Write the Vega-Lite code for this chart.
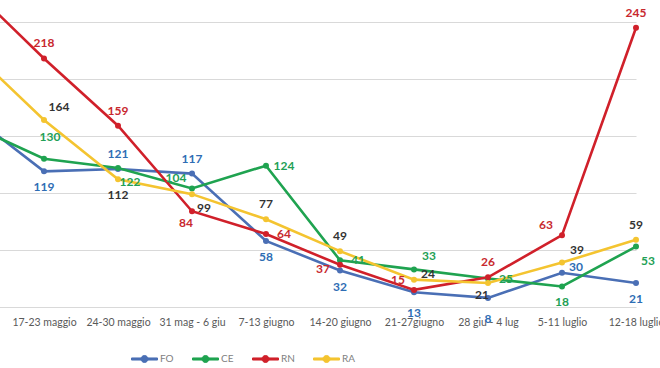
{
  "$schema": "https://vega.github.io/schema/vega-lite/v6.json",
  "width": 660,
  "height": 307,
  "autosize": "none",
  "padding": {"left": 0, "top": 0, "right": 0, "bottom": 61},
  "background": "white",
  "config": {
    "view": {"stroke": null},
    "font": "Lato"
  },
  "data": {
    "values": [
      {"week": "10-16 maggio", "series": "FO", "value": 169},
      {"week": "10-16 maggio", "series": "CE", "value": 160},
      {"week": "10-16 maggio", "series": "RN", "value": 281},
      {"week": "10-16 maggio", "series": "RA", "value": 226},
      {"week": "17-23 maggio", "series": "FO", "value": 119},
      {"week": "17-23 maggio", "series": "CE", "value": 130},
      {"week": "17-23 maggio", "series": "RN", "value": 218},
      {"week": "17-23 maggio", "series": "RA", "value": 164},
      {"week": "24-30 maggio", "series": "FO", "value": 121},
      {"week": "24-30 maggio", "series": "CE", "value": 122},
      {"week": "24-30 maggio", "series": "RN", "value": 159},
      {"week": "24-30 maggio", "series": "RA", "value": 112},
      {"week": "31 mag - 6 giu", "series": "FO", "value": 117},
      {"week": "31 mag - 6 giu", "series": "CE", "value": 104},
      {"week": "31 mag - 6 giu", "series": "RN", "value": 84},
      {"week": "31 mag - 6 giu", "series": "RA", "value": 99},
      {"week": "7-13 giugno", "series": "FO", "value": 58},
      {"week": "7-13 giugno", "series": "CE", "value": 124},
      {"week": "7-13 giugno", "series": "RN", "value": 64},
      {"week": "7-13 giugno", "series": "RA", "value": 77},
      {"week": "14-20 giugno", "series": "FO", "value": 32},
      {"week": "14-20 giugno", "series": "CE", "value": 41},
      {"week": "14-20 giugno", "series": "RN", "value": 37},
      {"week": "14-20 giugno", "series": "RA", "value": 49},
      {"week": "21-27giugno", "series": "FO", "value": 13},
      {"week": "21-27giugno", "series": "CE", "value": 33},
      {"week": "21-27giugno", "series": "RN", "value": 15},
      {"week": "21-27giugno", "series": "RA", "value": 24},
      {"week": "28 giu - 4 lug", "series": "FO", "value": 8},
      {"week": "28 giu - 4 lug", "series": "CE", "value": 25},
      {"week": "28 giu - 4 lug", "series": "RN", "value": 26},
      {"week": "28 giu - 4 lug", "series": "RA", "value": 21},
      {"week": "5-11 luglio", "series": "FO", "value": 30},
      {"week": "5-11 luglio", "series": "CE", "value": 18},
      {"week": "5-11 luglio", "series": "RN", "value": 63},
      {"week": "5-11 luglio", "series": "RA", "value": 39},
      {"week": "12-18 luglio", "series": "FO", "value": 21},
      {"week": "12-18 luglio", "series": "CE", "value": 53},
      {"week": "12-18 luglio", "series": "RN", "value": 245},
      {"week": "12-18 luglio", "series": "RA", "value": 59}
    ]
  },
  "encoding": {
    "x": {
      "field": "week",
      "type": "ordinal",
      "sort": null,
      "scale": {
        "type": "point",
        "domain": ["10-16 maggio", "17-23 maggio", "24-30 maggio", "31 mag - 6 giu", "7-13 giugno", "14-20 giugno", "21-27giugno", "28 giu - 4 lug", "5-11 luglio", "12-18 luglio"],
        "range": [-30, 636],
        "padding": 0
      },
      "axis": {
        "values": ["17-23 maggio", "24-30 maggio", "31 mag - 6 giu", "7-13 giugno", "14-20 giugno", "21-27giugno", "28 giu - 4 lug", "5-11 luglio", "12-18 luglio"],
        "title": null,
        "labelAngle": 0,
        "domain": false,
        "ticks": false,
        "grid": false,
        "labelFont": "Lato",
        "labelFontSize": 10.5,
        "labelColor": "#595959",
        "labelPadding": 10,
        "labelOverlap": false
      }
    },
    "y": {
      "field": "value",
      "type": "quantitative",
      "scale": {"domain": [0, 269.3], "nice": false, "zero": true},
      "axis": {
        "values": [0, 50, 100, 150, 200, 250],
        "title": null,
        "labels": false,
        "ticks": false,
        "domain": false,
        "grid": true,
        "gridColor": "#d9d9d9",
        "gridWidth": 1
      }
    }
  },
  "layer": [
    {
      "mark": {"type": "line", "strokeWidth": 2.6, "clip": true, "point": {"filled": true, "size": 36, "opacity": 1}},
      "encoding": {
        "color": {
          "field": "series",
          "type": "nominal",
          "scale": {"domain": ["FO", "CE", "RN", "RA"], "range": ["#4a6fb5", "#1fa350", "#d0202a", "#f4c430"]},
          "legend": {
            "title": null,
            "orient": "none",
            "direction": "horizontal",
            "legendX": 131,
            "legendY": 345,
            "symbolType": "M-1,-0.08L1,-0.08L1,0.08L-1,0.08Z M0.27,0A0.27,0.27 0 1,1 -0.27,0A0.27,0.27 0 1,1 0.27,0Z",
            "symbolSize": 676,
            "symbolStrokeWidth": 1,
            "labelFont": "Lato",
            "labelFontSize": 10,
            "labelColor": "#7f7f7f",
            "labelOffset": 2,
            "columnPadding": 16
          }
        }
      }
    },
    {
      "transform": [{"filter": "datum.week !== '10-16 maggio'"}],
      "encoding": {
        "text": {"field": "value", "type": "quantitative"},
        "color": {
          "field": "series",
          "type": "nominal",
          "scale": {"domain": ["FO", "CE", "RN", "RA"], "range": ["#2e6db4", "#22a055", "#c8282e", "#333333"]},
          "legend": null
        }
      },
      "layer": [
        {
          "transform": [{"filter": "indexof(['RN218','RN159','RN26','RN245','FO117','FO121','RA77','RA49','RA59'], datum.series + datum.value) >= 0"}],
          "mark": {"type": "text", "dy": -15, "font": "Lato", "fontSize": 12, "fontWeight": "bold"}
        },
        {
          "transform": [{"filter": "indexof(['FO119','FO58','FO32','FO21','RA112','CE18'], datum.series + datum.value) >= 0"}],
          "mark": {"type": "text", "dy": 16, "font": "Lato", "fontSize": 12, "fontWeight": "bold"}
        },
        {
          "transform": [{"filter": "indexof(['FO13','FO8'], datum.series + datum.value) >= 0"}],
          "mark": {"type": "text", "dy": 21, "font": "Lato", "fontSize": 12, "fontWeight": "bold"}
        },
        {
          "transform": [{"filter": "indexof(['RN64','CE124','CE41','CE25'], datum.series + datum.value) >= 0"}],
          "mark": {"type": "text", "dx": 18, "dy": 0, "font": "Lato", "fontSize": 12, "fontWeight": "bold"}
        },
        {
          "transform": [{"filter": "indexof(['RN37'], datum.series + datum.value) >= 0"}],
          "mark": {"type": "text", "dx": -17, "dy": 4, "font": "Lato", "fontSize": 12, "fontWeight": "bold"}
        },
        {
          "transform": [{"filter": "indexof(['RA164','CE33','RA39'], datum.series + datum.value) >= 0"}],
          "mark": {"type": "text", "dx": 15, "dy": -13, "font": "Lato", "fontSize": 12, "fontWeight": "bold"}
        },
        {
          "transform": [{"filter": "indexof(['FO30','RA24'], datum.series + datum.value) >= 0"}],
          "mark": {"type": "text", "dx": 14, "dy": -6, "font": "Lato", "fontSize": 12, "fontWeight": "bold"}
        },
        {
          "transform": [{"filter": "indexof(['RN63','RN15','CE104'], datum.series + datum.value) >= 0"}],
          "mark": {"type": "text", "dx": -16, "dy": -10, "font": "Lato", "fontSize": 12, "fontWeight": "bold"}
        },
        {
          "transform": [{"filter": "indexof(['CE122','CE53','RA99'], datum.series + datum.value) >= 0"}],
          "mark": {"type": "text", "dx": 12, "dy": 14, "font": "Lato", "fontSize": 12, "fontWeight": "bold"}
        },
        {
          "transform": [{"filter": "indexof(['RN84','RA21'], datum.series + datum.value) >= 0"}],
          "mark": {"type": "text", "dx": -6, "dy": 12, "font": "Lato", "fontSize": 12, "fontWeight": "bold"}
        },
        {
          "transform": [{"filter": "indexof(['CE130'], datum.series + datum.value) >= 0"}],
          "mark": {"type": "text", "dx": 6, "dy": -22, "font": "Lato", "fontSize": 12, "fontWeight": "bold"}
        }
      ]
    }
  ],
  "resolve": {"scale": {"color": "independent"}}
}
